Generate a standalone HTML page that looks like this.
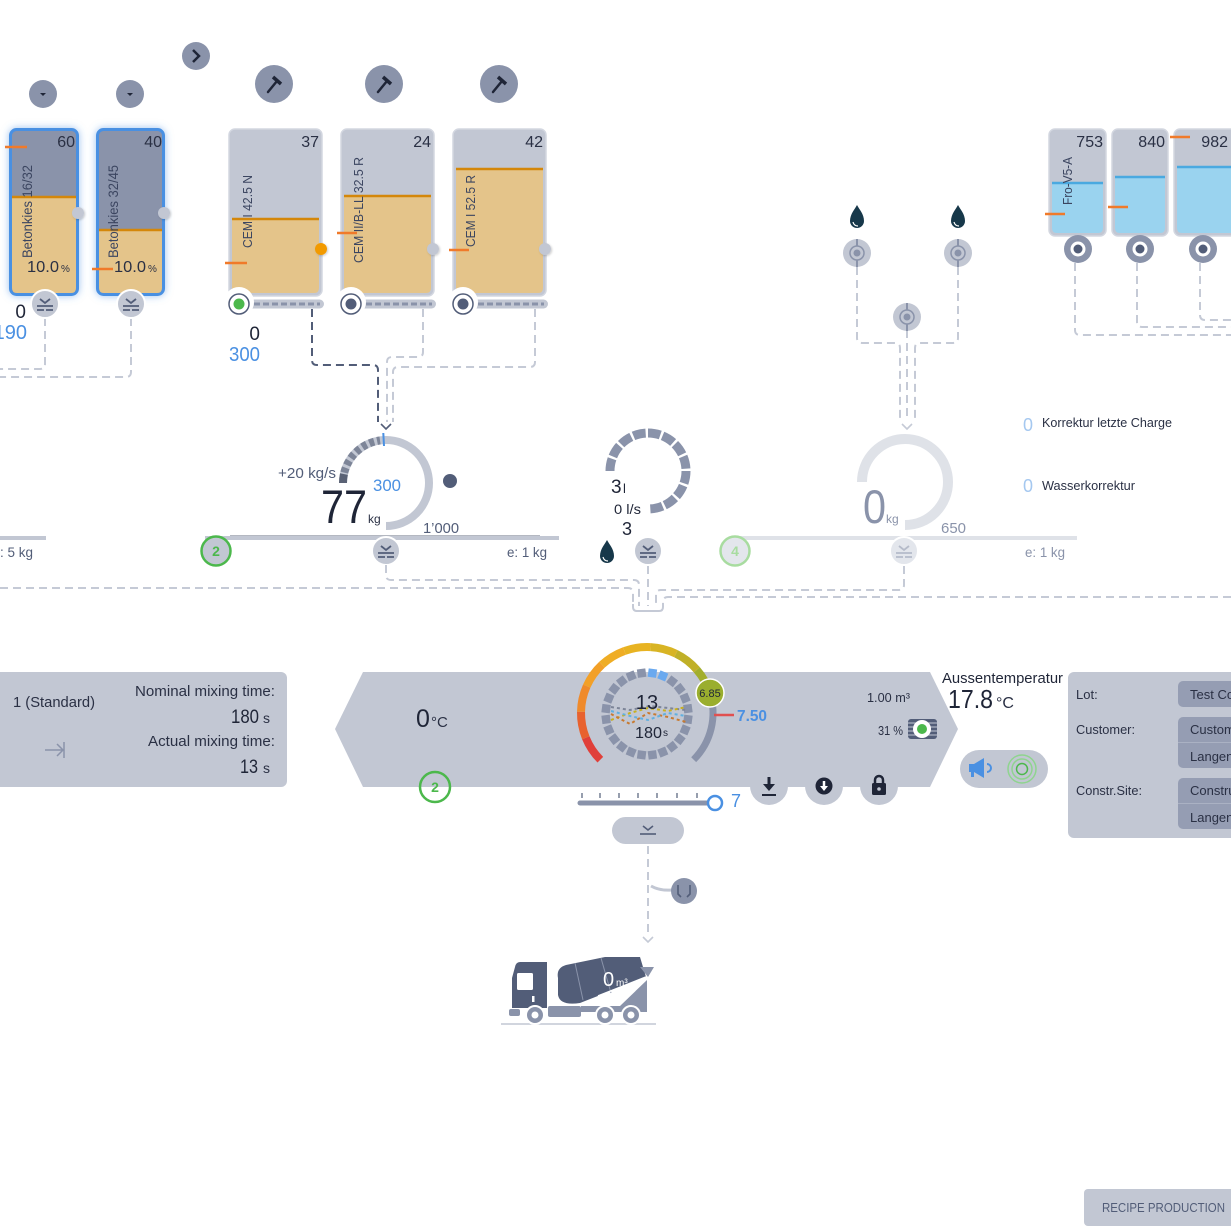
<!DOCTYPE html>
<html><head><meta charset="utf-8">
<style>
html,body{margin:0;padding:0;background:#fff;width:1231px;height:1231px;overflow:hidden}
svg{display:block}
text{font-family:"Liberation Sans",sans-serif}
.dl{fill:none;stroke:#c5cad6;stroke-width:2;stroke-dasharray:8 5}
.dd{fill:none;stroke:#525d78;stroke-width:2;stroke-dasharray:8 5}
.or{stroke:#f07a2a;stroke-width:2.5}
</style></head><body>
<svg width="1231" height="1231" viewBox="0 0 1231 1231" xmlns="http://www.w3.org/2000/svg" fill="#2a3044">
<defs>
<filter id="glow" x="-40%" y="-20%" width="180%" height="140%">
 <feGaussianBlur in="SourceAlpha" stdDeviation="4" result="b"/>
 <feFlood flood-color="#4a90e2" flood-opacity="0.55"/>
 <feComposite in2="b" operator="in"/>
 <feMerge><feMergeNode/><feMergeNode in="SourceGraphic"/></feMerge>
</filter>
<filter id="sh" x="-50%" y="-50%" width="200%" height="200%">
 <feDropShadow dx="1" dy="1" stdDeviation="1" flood-color="#000" flood-opacity="0.2"/>
</filter>
</defs>

<!-- ========== TOP BUTTONS ========== -->
<circle cx="196" cy="56" r="14" fill="#8a93aa"/>
<path d="M193,50 L199,56 L193,62" fill="none" stroke="#1f2537" stroke-width="2.5"/>
<circle cx="43" cy="94" r="14" fill="#8a93aa"/>
<path d="M40,93 L46,93 L43,96 Z" fill="#1f2537"/>
<circle cx="130" cy="94" r="14" fill="#8a93aa"/>
<path d="M127,93 L133,93 L130,96 Z" fill="#1f2537"/>

<g transform="translate(274,84)"><circle r="19" fill="#8a93aa"/><line x1="-6" y1="8" x2="3" y2="-3" stroke="#1f2537" stroke-width="2.5" stroke-linecap="round"/><line x1="-1" y1="-7" x2="7" y2="0" stroke="#1f2537" stroke-width="3.5"/></g>
<g transform="translate(384,84)"><circle r="19" fill="#8a93aa"/><line x1="-6" y1="8" x2="3" y2="-3" stroke="#1f2537" stroke-width="2.5" stroke-linecap="round"/><line x1="-1" y1="-7" x2="7" y2="0" stroke="#1f2537" stroke-width="3.5"/></g>
<g transform="translate(499,84)"><circle r="19" fill="#8a93aa"/><line x1="-6" y1="8" x2="3" y2="-3" stroke="#1f2537" stroke-width="2.5" stroke-linecap="round"/><line x1="-1" y1="-7" x2="7" y2="0" stroke="#1f2537" stroke-width="3.5"/></g>

<!-- ========== AGGREGATE BINS ========== -->
<path class="dl" d="M45,318 V364 Q45,369 40,369 H0"/>
<path class="dl" d="M131,318 V372 Q131,377 126,377 H0"/>

<g filter="url(#glow)">
<rect x="10.5" y="129.5" width="67" height="165" rx="6" fill="#8a93aa" stroke="#4a90e2" stroke-width="3"/>
<rect x="97.5" y="129.5" width="66" height="165" rx="6" fill="#8a93aa" stroke="#4a90e2" stroke-width="3"/>
</g>
<path d="M12,196 H76 V288 Q76,293 71,293 H17 Q12,293 12,288 Z" fill="#e4c48a"/>
<line x1="12" y1="197" x2="76" y2="197" stroke="#d4870a" stroke-width="2.5"/>
<path d="M99,229 H162 V288 Q162,293 157,293 H104 Q99,293 99,288 Z" fill="#e4c48a"/>
<line x1="99" y1="230" x2="162" y2="230" stroke="#d4870a" stroke-width="2.5"/>
<text x="75" y="147" font-size="16" text-anchor="end">60</text>
<text x="162" y="147" font-size="16" text-anchor="end">40</text>
<text transform="translate(32,258) rotate(-90)" font-size="14" textLength="93" lengthAdjust="spacingAndGlyphs" fill="#3b4560">Betonkies 16/32</text>
<text transform="translate(118,258) rotate(-90)" font-size="14" textLength="93" lengthAdjust="spacingAndGlyphs" fill="#3b4560">Betonkies 32/45</text>
<text x="27" y="272" font-size="16" textLength="32" lengthAdjust="spacingAndGlyphs">10.0</text><text x="61" y="272" font-size="10">%</text>
<text x="114" y="272" font-size="16" textLength="32" lengthAdjust="spacingAndGlyphs">10.0</text><text x="148" y="272" font-size="10">%</text>
<line class="or" x1="5" y1="147" x2="27" y2="147"/>
<line class="or" x1="92" y1="269" x2="113" y2="269"/>
<circle cx="78" cy="213" r="6" fill="#c2c7d3" filter="url(#sh)"/>
<circle cx="164" cy="213" r="6" fill="#c2c7d3" filter="url(#sh)"/>

<g transform="translate(45,304)"><circle r="14" fill="#c2c7d3" stroke="#fff" stroke-width="2"/><path d="M-5,-5 L0,-1 L5,-5" fill="none" stroke="#525d78" stroke-width="1.8"/><path d="M-8,2 H8 M-8,6 H-1 M1,6 H8" stroke="#525d78" stroke-width="1.8"/></g>
<g transform="translate(131,304)"><circle r="14" fill="#c2c7d3" stroke="#fff" stroke-width="2"/><path d="M-5,-5 L0,-1 L5,-5" fill="none" stroke="#525d78" stroke-width="1.8"/><path d="M-8,2 H8 M-8,6 H-1 M1,6 H8" stroke="#525d78" stroke-width="1.8"/></g>
<text x="26" y="318" font-size="19" text-anchor="end" fill="#1f2537">0</text>
<text x="27" y="339" font-size="20" text-anchor="end" fill="#4a90e2">190</text>

<!-- ========== CEMENT SILOS ========== -->
<path class="dd" d="M312,309 V360 Q312,365 317,365 H373 Q378,365 378,370 V422"/>
<path class="dl" d="M423,309 V352 Q423,357 418,357 H392 Q387,357 387,362 V422"/>
<path class="dl" d="M535,309 V362 Q535,367 530,367 H398 Q393,367 393,372 V422"/>
<path d="M381,424 L386,429 L391,424" fill="none" stroke="#525d78" stroke-width="1.6"/>

<!-- silo 1 -->
<rect x="229" y="129" width="93" height="167" rx="6" fill="#c2c7d3" stroke="#d3d7e0" stroke-width="1.5"/>
<path d="M232,218 H319 V288 Q319,293 314,293 H237 Q232,293 232,288 Z" fill="#e4c48a"/>
<line x1="232" y1="219" x2="319" y2="219" stroke="#d4870a" stroke-width="2.5"/>
<text x="319" y="147" font-size="16" text-anchor="end">37</text>
<text transform="translate(252,248) rotate(-90)" font-size="13" textLength="73" lengthAdjust="spacingAndGlyphs" fill="#3b4560">CEM I 42.5 N</text>
<line class="or" x1="225" y1="263" x2="247" y2="263"/>
<circle cx="321" cy="249" r="6" fill="#f29a00" filter="url(#sh)"/>
<!-- silo 2 -->
<rect x="341" y="129" width="93" height="167" rx="6" fill="#c2c7d3" stroke="#d3d7e0" stroke-width="1.5"/>
<path d="M344,195 H431 V288 Q431,293 426,293 H349 Q344,293 344,288 Z" fill="#e4c48a"/>
<line x1="344" y1="196" x2="431" y2="196" stroke="#d4870a" stroke-width="2.5"/>
<text x="431" y="147" font-size="16" text-anchor="end">24</text>
<text transform="translate(363,263) rotate(-90)" font-size="13" textLength="106" lengthAdjust="spacingAndGlyphs" fill="#3b4560">CEM II/B-LL 32.5 R</text>
<line class="or" x1="337" y1="233" x2="357" y2="233"/>
<circle cx="433" cy="249" r="6" fill="#c2c7d3" filter="url(#sh)"/>
<!-- silo 3 -->
<rect x="453" y="129" width="93" height="167" rx="6" fill="#c2c7d3" stroke="#d3d7e0" stroke-width="1.5"/>
<path d="M456,168 H543 V288 Q543,293 538,293 H461 Q456,293 456,288 Z" fill="#e4c48a"/>
<line x1="456" y1="169" x2="543" y2="169" stroke="#d4870a" stroke-width="2.5"/>
<text x="543" y="147" font-size="16" text-anchor="end">42</text>
<text transform="translate(475,247) rotate(-90)" font-size="13" textLength="72" lengthAdjust="spacingAndGlyphs" fill="#3b4560">CEM I 52.5 R</text>
<line class="or" x1="449" y1="250" x2="469" y2="250"/>
<circle cx="545" cy="249" r="6" fill="#c2c7d3" filter="url(#sh)"/>

<!-- conveyors -->
<g>
<rect x="239" y="299.5" width="85" height="9" rx="4.5" fill="#c2c7d3"/>
<line x1="254" y1="304" x2="320" y2="304" stroke="#8a93aa" stroke-width="3" stroke-dasharray="6 3"/>
<circle cx="239" cy="302" r="15" fill="#fff"/>
<circle cx="239" cy="304" r="10" fill="#fff" stroke="#525d78" stroke-width="1.5"/>
<circle cx="239" cy="304" r="5.5" fill="#4cb84c"/>
</g>
<g>
<rect x="351" y="299.5" width="85" height="9" rx="4.5" fill="#c2c7d3"/>
<line x1="366" y1="304" x2="432" y2="304" stroke="#8a93aa" stroke-width="3" stroke-dasharray="6 3"/>
<circle cx="351" cy="302" r="15" fill="#fff"/>
<circle cx="351" cy="304" r="10" fill="#fff" stroke="#525d78" stroke-width="1.5"/>
<circle cx="351" cy="304" r="5.5" fill="#525d78"/>
</g>
<g>
<rect x="463" y="299.5" width="85" height="9" rx="4.5" fill="#c2c7d3"/>
<line x1="478" y1="304" x2="544" y2="304" stroke="#8a93aa" stroke-width="3" stroke-dasharray="6 3"/>
<circle cx="463" cy="302" r="15" fill="#fff"/>
<circle cx="463" cy="304" r="10" fill="#fff" stroke="#525d78" stroke-width="1.5"/>
<circle cx="463" cy="304" r="5.5" fill="#525d78"/>
</g>
<text x="260" y="340" font-size="19" text-anchor="end" fill="#1f2537">0</text>
<text x="229" y="361" font-size="20" textLength="31" lengthAdjust="spacingAndGlyphs" fill="#4a90e2">300</text>

<!-- ========== WATER SOURCES ========== -->
<path class="dl" d="M857,267 V338 Q857,343 862,343 H895 Q900,343 900,348 V420"/>
<path class="dl" d="M958,267 V338 Q958,343 953,343 H920 Q915,343 915,348 V420"/>
<path class="dl" d="M907,330 V420"/>
<path d="M902,424 L907,429 L912,424" fill="none" stroke="#c5cad6" stroke-width="1.6"/>

<path d="M857,205 C855,209 850,214 850,221 A7,7 0 0 0 864,221 C864,214 859,209 857,205 Z" fill="#17384a"/>
<path d="M853,222 Q854,226 858,226" fill="none" stroke="#fff" stroke-width="1.2"/>
<path d="M958,205 C956,209 951,214 951,221 A7,7 0 0 0 965,221 C965,214 960,209 958,205 Z" fill="#17384a"/>
<path d="M954,222 Q955,226 959,226" fill="none" stroke="#fff" stroke-width="1.2"/>

<g transform="translate(857,253)"><circle r="14" fill="#c2c7d3"/><line x1="0" y1="-14" x2="0" y2="14" stroke="#8a93aa" stroke-width="2"/><circle r="7" fill="#c2c7d3" stroke="#8a93aa" stroke-width="1.5"/><circle r="3.5" fill="#8a93aa"/></g>
<g transform="translate(958,253)"><circle r="14" fill="#c2c7d3"/><line x1="0" y1="-14" x2="0" y2="14" stroke="#8a93aa" stroke-width="2"/><circle r="7" fill="#c2c7d3" stroke="#8a93aa" stroke-width="1.5"/><circle r="3.5" fill="#8a93aa"/></g>
<g transform="translate(907,317)"><circle r="14" fill="#c2c7d3"/><line x1="0" y1="-14" x2="0" y2="14" stroke="#8a93aa" stroke-width="2"/><circle r="7" fill="#c2c7d3" stroke="#8a93aa" stroke-width="1.5"/><circle r="3.5" fill="#8a93aa"/></g>

<!-- ========== ADDITIVE TANKS ========== -->
<path class="dl" d="M1075,263 V330 Q1075,335 1080,335 H1231"/>
<path class="dl" d="M1137,263 V322 Q1137,327 1142,327 H1231"/>
<path class="dl" d="M1200,263 V315 Q1200,320 1205,320 H1231"/>

<rect x="1049" y="129" width="57" height="107" rx="6" fill="#c2c7d3" stroke="#d3d7e0" stroke-width="1.5"/>
<path d="M1052,182 H1103 V228 Q1103,233 1098,233 H1057 Q1052,233 1052,228 Z" fill="#9ad3ef"/>
<line x1="1052" y1="183" x2="1103" y2="183" stroke="#4aa9e0" stroke-width="2.5"/>
<rect x="1112" y="129" width="56" height="107" rx="6" fill="#c2c7d3" stroke="#d3d7e0" stroke-width="1.5"/>
<path d="M1115,176 H1165 V228 Q1165,233 1160,233 H1120 Q1115,233 1115,228 Z" fill="#9ad3ef"/>
<line x1="1115" y1="177" x2="1165" y2="177" stroke="#4aa9e0" stroke-width="2.5"/>
<rect x="1174" y="129" width="70" height="107" rx="6" fill="#c2c7d3" stroke="#d3d7e0" stroke-width="1.5"/>
<path d="M1177,166 H1241 V233 H1182 Q1177,233 1177,228 Z" fill="#9ad3ef"/>
<line x1="1177" y1="167" x2="1241" y2="167" stroke="#4aa9e0" stroke-width="2.5"/>
<text x="1103" y="147" font-size="16" text-anchor="end">753</text>
<text x="1165" y="147" font-size="16" text-anchor="end">840</text>
<text x="1228" y="147" font-size="16" text-anchor="end">982</text>
<text transform="translate(1072,205) rotate(-90)" font-size="13" textLength="48" lengthAdjust="spacingAndGlyphs" fill="#3b4560">Fro-V5-A</text>
<line class="or" x1="1045" y1="214" x2="1065" y2="214"/>
<line class="or" x1="1108" y1="207" x2="1128" y2="207"/>
<line class="or" x1="1170" y1="137" x2="1190" y2="137"/>
<g transform="translate(1078,249)"><circle r="14" fill="#8a93aa"/><circle r="7.5" fill="#fff"/><circle r="4.5" fill="#525d78"/></g>
<g transform="translate(1140,249)"><circle r="14" fill="#8a93aa"/><circle r="7.5" fill="#fff"/><circle r="4.5" fill="#525d78"/></g>
<g transform="translate(1203,249)"><circle r="14" fill="#8a93aa"/><circle r="7.5" fill="#fff"/><circle r="4.5" fill="#525d78"/></g>

<!-- corrections -->
<text x="1023" y="431" font-size="18" fill="#a5c8f0">0</text>
<text x="1042" y="427" font-size="13" textLength="130" lengthAdjust="spacingAndGlyphs">Korrektur letzte Charge</text>
<text x="1023" y="492" font-size="18" fill="#a5c8f0">0</text>
<text x="1042" y="490" font-size="13" textLength="93" lengthAdjust="spacingAndGlyphs">Wasserkorrektur</text>

<!-- ========== SCALE 1 (cement) ========== -->
<path d="M343,483 A43,43 0 1 1 386,526" fill="none" stroke="#c2c7d3" stroke-width="8"/>
<path d="M343,483 A43,43 0 0 1 343.94,474.06" fill="none" stroke="#5a6275" stroke-width="8"/>
<path d="M344.28,472.6 A43,43 0 0 1 380.02,440.42" fill="none" stroke="#7d8598" stroke-width="8" stroke-dasharray="5 3"/>
<line x1="384" y1="446" x2="383.3" y2="433" stroke="#4a90e2" stroke-width="2"/>
<text x="278" y="478" font-size="15" textLength="58" lengthAdjust="spacingAndGlyphs" fill="#525d78">+20 kg/s</text>
<text x="321" y="523" font-size="47" textLength="46" lengthAdjust="spacingAndGlyphs" fill="#1f2537">77</text>
<text x="368" y="523" font-size="12">kg</text>
<text x="373" y="491" font-size="17" textLength="28" lengthAdjust="spacingAndGlyphs" fill="#4a90e2">300</text>
<circle cx="450" cy="481" r="7" fill="#525d78"/>
<text x="423" y="533" font-size="15" textLength="36" lengthAdjust="spacingAndGlyphs" fill="#525d78">1’000</text>
<line x1="205" y1="538" x2="559" y2="538" stroke="#c2c7d3" stroke-width="4"/>
<line x1="230" y1="535.5" x2="540" y2="535.5" stroke="#6b7385" stroke-width="1" opacity="0.5"/>
<line x1="0" y1="538" x2="46" y2="538" stroke="#c2c7d3" stroke-width="4"/>
<text x="0" y="557" font-size="14" textLength="33" lengthAdjust="spacingAndGlyphs" fill="#525d78">: 5 kg</text>
<circle cx="216" cy="551" r="14.5" fill="#c2c7d3" stroke="#4cb84c" stroke-width="2.5"/>
<text x="216" y="556" font-size="14" font-weight="bold" text-anchor="middle" fill="#4cb84c">2</text>
<g transform="translate(386,551)"><circle r="14" fill="#c2c7d3" stroke="#fff" stroke-width="2"/><path d="M-5,-5 L0,-1 L5,-5" fill="none" stroke="#525d78" stroke-width="1.8"/><path d="M-8,2 H8 M-8,6 H-1 M1,6 H8" stroke="#525d78" stroke-width="1.8"/></g>
<text x="507" y="557" font-size="14" textLength="40" lengthAdjust="spacingAndGlyphs" fill="#525d78">e: 1 kg</text>

<!-- ========== WATER METER ========== -->
<path d="M610,471 A38,38 0 1 1 648,509" fill="none" stroke="#8a93aa" stroke-width="9" stroke-dasharray="12.5 2.4"/>
<text x="611" y="493" font-size="19" fill="#1f2537">3</text><text x="623" y="493" font-size="13" fill="#1f2537">l</text>
<text x="614" y="514" font-size="14" textLength="27" lengthAdjust="spacingAndGlyphs" fill="#1f2537">0 l/s</text>
<text x="622" y="535" font-size="18" fill="#1f2537">3</text>
<path d="M607,540 C605,544 600,549 600,556 A7,7 0 0 0 614,556 C614,549 609,544 607,540 Z" fill="#17384a"/>
<path d="M603,557 Q604,561 608,561" fill="none" stroke="#fff" stroke-width="1.2"/>
<g transform="translate(648,551)"><circle r="14" fill="#c2c7d3" stroke="#fff" stroke-width="2"/><path d="M-5,-5 L0,-1 L5,-5" fill="none" stroke="#525d78" stroke-width="1.8"/><path d="M-8,2 H8 M-8,6 H-1 M1,6 H8" stroke="#525d78" stroke-width="1.8"/></g>

<!-- ========== WATER SCALE ========== -->
<path d="M862,482 A43,43 0 1 1 905,525" fill="none" stroke="#dfe2e8" stroke-width="10"/>
<text x="863" y="523" font-size="47" textLength="23" lengthAdjust="spacingAndGlyphs" fill="#8a93aa">0</text>
<text x="886" y="523" font-size="12" fill="#8a93aa">kg</text>
<text x="941" y="533" font-size="15" textLength="25" lengthAdjust="spacingAndGlyphs" fill="#8a93aa">650</text>
<line x1="735" y1="538" x2="1077" y2="538" stroke="#dfe2e8" stroke-width="4"/>
<circle cx="735" cy="551" r="14.5" fill="#e3e6ec" stroke="#a8dca0" stroke-width="2.5"/>
<text x="735" y="556" font-size="14" font-weight="bold" text-anchor="middle" fill="#a8dca0">4</text>
<g transform="translate(904,551)"><circle r="14" fill="#e3e6ec" stroke="#fff" stroke-width="2"/><path d="M-5,-5 L0,-1 L5,-5" fill="none" stroke="#b5bbc9" stroke-width="1.8"/><path d="M-8,2 H8 M-8,6 H-1 M1,6 H8" stroke="#b5bbc9" stroke-width="1.8"/></g>
<text x="1025" y="557" font-size="14" textLength="40" lengthAdjust="spacingAndGlyphs" fill="#8a93aa">e: 1 kg</text>

<!-- ========== MERGING CONNECTORS ========== -->
<path class="dl" d="M386,565 V575 Q386,580 391,580 H634 Q639,580 639,585 V606"/>
<path class="dl" d="M0,588 H628 Q633,588 633,593 V606"/>
<path class="dl" d="M648,566 V606"/>
<path class="dl" d="M904,566 V585 Q904,590 899,590 H661 Q656,590 656,595 V606"/>
<path class="dl" d="M1231,597 H668 Q663,597 663,602 V606"/>
<path d="M633,604 V607 Q633,611 637,611 H659 Q663,611 663,607 V604" fill="none" stroke="#c5cad6" stroke-width="2"/>

<!-- ========== LEFT PANEL ========== -->
<rect x="-10" y="672" width="297" height="115" rx="6" fill="#c2c7d3"/>
<text x="13" y="707" font-size="15" textLength="82" lengthAdjust="spacingAndGlyphs">1 (Standard)</text>
<path d="M45,750 H63 M57,744 L63,750 L57,756 M64,742 V758" fill="none" stroke="#8a93aa" stroke-width="1.5"/>
<text x="135" y="696" font-size="15" textLength="140" lengthAdjust="spacingAndGlyphs">Nominal mixing time:</text>
<text x="231" y="723" font-size="19" textLength="28" lengthAdjust="spacingAndGlyphs" fill="#1f2537">180</text><text x="263" y="723" font-size="14">s</text>
<text x="148" y="746" font-size="15" textLength="127" lengthAdjust="spacingAndGlyphs">Actual mixing time:</text>
<text x="240" y="773" font-size="19" textLength="18" lengthAdjust="spacingAndGlyphs" fill="#1f2537">13</text><text x="263" y="773" font-size="14">s</text>

<!-- ========== MIXER PANEL ========== -->
<polygon points="335,729 363,672 930,672 958,729 930,787 363,787" fill="#c2c7d3"/>
<text x="416" y="727" font-size="25" fill="#1f2537">0</text>
<text x="431" y="727" font-size="15">°C</text>
<circle cx="435" cy="787" r="15" fill="none" stroke="#4cb84c" stroke-width="2.5"/>
<text x="435" y="792" font-size="14" font-weight="bold" text-anchor="middle" fill="#4cb84c">2</text>

<!-- gradient arc -->
<g fill="none" stroke-width="8">
<path d="M600.33,759.67 A66,66 0 0 1 585.8,737.72" stroke="#e0403a"/>
<path d="M585.8,737.72 A66,66 0 0 1 581.01,711.85" stroke="#e8622f"/>
<path d="M581.01,711.85 A66,66 0 0 1 586.71,686.16" stroke="#ef8a2b"/>
<path d="M586.71,686.16 A66,66 0 0 1 601.99,664.73" stroke="#f2a028"/>
<path d="M601.99,664.73 A66,66 0 0 1 624.43,650.98" stroke="#efad25"/>
<path d="M624.43,650.98 A66,66 0 0 1 650.45,647.09" stroke="#e8b322"/>
<path d="M650.45,647.09 A66,66 0 0 1 675.93,653.68" stroke="#d8b424"/>
<path d="M675.93,653.68 A66,66 0 0 1 696.81,669.7" stroke="#c0b028"/>
<path d="M696.81,669.7 A66,66 0 0 1 709.91,693.04" stroke="#a2ae2d"/>
</g>
<path d="M709.91,693.04 A66,66 0 0 1 693.67,759.67" fill="none" stroke="#8a93aa" stroke-width="7"/>

<!-- square ring -->
<g transform="translate(647,714)" fill="#8a93aa">
<rect x="-4.25" y="-45.5" width="8.5" height="8.5" transform="rotate(7.5)" fill="#6aa9ef"/>
<rect x="-4.25" y="-45.5" width="8.5" height="8.5" transform="rotate(22.5)" fill="#6aa9ef"/>
<rect x="-4.25" y="-45.5" width="8.5" height="8.5" transform="rotate(37.5)"/>
<rect x="-4.25" y="-45.5" width="8.5" height="8.5" transform="rotate(52.5)"/>
<rect x="-4.25" y="-45.5" width="8.5" height="8.5" transform="rotate(67.5)"/>
<rect x="-4.25" y="-45.5" width="8.5" height="8.5" transform="rotate(82.5)"/>
<rect x="-4.25" y="-45.5" width="8.5" height="8.5" transform="rotate(97.5)"/>
<rect x="-4.25" y="-45.5" width="8.5" height="8.5" transform="rotate(112.5)"/>
<rect x="-4.25" y="-45.5" width="8.5" height="8.5" transform="rotate(127.5)"/>
<rect x="-4.25" y="-45.5" width="8.5" height="8.5" transform="rotate(142.5)"/>
<rect x="-4.25" y="-45.5" width="8.5" height="8.5" transform="rotate(157.5)"/>
<rect x="-4.25" y="-45.5" width="8.5" height="8.5" transform="rotate(172.5)"/>
<rect x="-4.25" y="-45.5" width="8.5" height="8.5" transform="rotate(187.5)"/>
<rect x="-4.25" y="-45.5" width="8.5" height="8.5" transform="rotate(202.5)"/>
<rect x="-4.25" y="-45.5" width="8.5" height="8.5" transform="rotate(217.5)"/>
<rect x="-4.25" y="-45.5" width="8.5" height="8.5" transform="rotate(232.5)"/>
<rect x="-4.25" y="-45.5" width="8.5" height="8.5" transform="rotate(247.5)"/>
<rect x="-4.25" y="-45.5" width="8.5" height="8.5" transform="rotate(262.5)"/>
<rect x="-4.25" y="-45.5" width="8.5" height="8.5" transform="rotate(277.5)"/>
<rect x="-4.25" y="-45.5" width="8.5" height="8.5" transform="rotate(292.5)"/>
<rect x="-4.25" y="-45.5" width="8.5" height="8.5" transform="rotate(307.5)"/>
<rect x="-4.25" y="-45.5" width="8.5" height="8.5" transform="rotate(322.5)"/>
<rect x="-4.25" y="-45.5" width="8.5" height="8.5" transform="rotate(337.5)"/>
<rect x="-4.25" y="-45.5" width="8.5" height="8.5" transform="rotate(352.5)"/>
</g>
<!-- waves -->
<g fill="none" stroke-width="2" stroke-dasharray="3 3">
<path d="M611,707 L630,710 L650,706 L686,710" stroke="#7d8598"/>
<path d="M611,720 L630,713 L648,708 L668,711 L686,707" stroke="#c8b020"/>
<path d="M611,714 L630,724 L648,713 L668,717 L686,722" stroke="#c87a30"/>
<path d="M611,711 L630,716 L648,720 L668,713 L686,716" stroke="#60b0e0"/>
</g>
<text x="647" y="709" font-size="20" text-anchor="middle" fill="#1f2537">13</text>
<text x="635" y="738" font-size="16" textLength="27" lengthAdjust="spacingAndGlyphs" fill="#1f2537">180</text>
<text x="663" y="736" font-size="10" fill="#1f2537">s</text>
<circle cx="710" cy="693" r="14" fill="#9aae2e" stroke="#fff" stroke-width="1.5"/>
<text x="710" y="697" font-size="11" text-anchor="middle" fill="#1f2537">6.85</text>
<line x1="714" y1="715" x2="734" y2="715" stroke="#e05050" stroke-width="2.5"/>
<text x="737" y="721" font-size="16" font-weight="bold" textLength="30" lengthAdjust="spacingAndGlyphs" fill="#4a90e2">7.50</text>

<text x="867" y="702" font-size="13" textLength="43" lengthAdjust="spacingAndGlyphs">1.00 m³</text>
<text x="878" y="735" font-size="13" textLength="25" lengthAdjust="spacingAndGlyphs">31 %</text>
<rect x="908" y="719" width="29" height="20" rx="3" fill="#525d78"/>
<path d="M908,723 H937 M908,727 H937 M908,731 H937 M908,735 H937" stroke="#c2c7d3" stroke-width="1"/>
<circle cx="922" cy="729" r="9" fill="#fff"/>
<circle cx="922" cy="729" r="5" fill="#4cb84c"/>

<!-- bottom buttons -->
<circle cx="769" cy="786" r="19" fill="#c2c7d3"/>
<circle cx="824" cy="786" r="19" fill="#c2c7d3"/>
<circle cx="879" cy="786" r="19" fill="#c2c7d3"/>
<path d="M769,777 V788" stroke="#1f2537" stroke-width="3"/>
<path d="M763,784 L775,784 L769,791 Z" fill="#1f2537"/>
<path d="M762,795 H776" stroke="#1f2537" stroke-width="2"/>
<circle cx="824" cy="786" r="8.5" fill="#1f2537"/>
<path d="M824,781 V787" stroke="#fff" stroke-width="2.5"/>
<path d="M820,786 L828,786 L824,791 Z" fill="#fff"/>
<path d="M875,784 V780 A4,4 0 0 1 883,780 V784" fill="none" stroke="#1f2537" stroke-width="2.5"/>
<rect x="872" y="783" width="14" height="12" rx="1.5" fill="#1f2537"/>
<circle cx="879" cy="789" r="1.8" fill="#c2c7d3"/>

<!-- slider -->
<path d="M582,793 V798 M600,793 V798 M619,793 V798 M638,793 V798 M657,793 V798 M677,793 V798 M697,793 V798" stroke="#525d78" stroke-width="1.2"/>
<line x1="580" y1="803" x2="713" y2="803" stroke="#8a93aa" stroke-width="5" stroke-linecap="round"/>
<circle cx="715" cy="803" r="7" fill="#fff" stroke="#4a90e2" stroke-width="2.5"/>
<text x="731" y="807" font-size="18" fill="#4a90e2">7</text>

<!-- outside temperature -->
<text x="942" y="683" font-size="15" textLength="121" lengthAdjust="spacingAndGlyphs" fill="#1f2537">Aussentemperatur</text>
<text x="948" y="708" font-size="26" textLength="45" lengthAdjust="spacingAndGlyphs" fill="#1f2537">17.8</text>
<text x="996" y="708" font-size="16">°C</text>
<rect x="960" y="750" width="88" height="38" rx="19" fill="#c2c7d3"/>
<path d="M969,764 H974 L984,758 V778 L974,772 H969 Z" fill="#4a90e2"/>
<rect x="971" y="772" width="3" height="5" fill="#4a90e2"/>
<path d="M987,764 A4,4 0 0 1 987,772" stroke="#4a90e2" stroke-width="2" fill="none"/>
<circle cx="1022" cy="769" r="14" fill="none" stroke="#8fd48f" stroke-width="1.5"/>
<circle cx="1022" cy="769" r="10" fill="none" stroke="#8fd48f" stroke-width="1.5"/>
<circle cx="1022" cy="769" r="5.5" fill="none" stroke="#4cb84c" stroke-width="1.5"/>

<!-- ========== RIGHT PANEL ========== -->
<rect x="1068" y="672" width="180" height="166" rx="6" fill="#c2c7d3"/>
<text x="1076" y="699" font-size="13">Lot:</text>
<text x="1076" y="734" font-size="13" textLength="59" lengthAdjust="spacingAndGlyphs">Customer:</text>
<text x="1076" y="795" font-size="13" textLength="66" lengthAdjust="spacingAndGlyphs">Constr.Site:</text>
<rect x="1178" y="681" width="70" height="26" rx="5" fill="#959db3"/>
<rect x="1178" y="717" width="70" height="51" rx="5" fill="#959db3"/>
<line x1="1178" y1="742.5" x2="1231" y2="742.5" stroke="#aab1c3" stroke-width="1"/>
<rect x="1178" y="778" width="70" height="51" rx="5" fill="#959db3"/>
<line x1="1178" y1="803.5" x2="1231" y2="803.5" stroke="#aab1c3" stroke-width="1"/>
<text x="1190" y="699" font-size="13">Test Concrete</text>
<text x="1190" y="734" font-size="13">Customer</text>
<text x="1190" y="761" font-size="13">Langenthal</text>
<text x="1190" y="795" font-size="13">Construction</text>
<text x="1190" y="822" font-size="13">Langenthal</text>

<!-- ========== BELOW MIXER ========== -->
<rect x="612" y="817" width="72" height="27" rx="13.5" fill="#c2c7d3"/>
<path d="M643,826 L648,830 L653,826" fill="none" stroke="#525d78" stroke-width="1.6"/>
<path d="M640,834 H656" stroke="#525d78" stroke-width="1.6"/>
<path class="dl" d="M648,846 V936"/>
<path d="M643,937 L648,942 L653,937" fill="none" stroke="#c5cad6" stroke-width="1.6"/>
<path d="M651,886 Q660,891 672,890" fill="none" stroke="#c2c7d3" stroke-width="3"/>
<circle cx="684" cy="891" r="13" fill="#8a93aa"/>
<path d="M678,885 V894 L681,897 M690,885 V894 L687,897" fill="none" stroke="#525d78" stroke-width="1.6"/>

<!-- truck -->
<line x1="501" y1="1024" x2="656" y2="1024" stroke="#c2c7d3" stroke-width="1.5"/>
<path d="M520,962 H547 V1008 H512 V978 L515,967 Q516,962 520,962 Z" fill="#525d78"/>
<rect x="517" y="973" width="16" height="17" rx="1.5" fill="#fff"/>
<rect x="532" y="996" width="2.5" height="6" fill="#fff"/>
<rect x="509" y="1009" width="11" height="7" rx="2" fill="#8a93aa"/>
<rect x="548" y="1006" width="33" height="11" rx="2" fill="#8a93aa"/>
<rect x="581" y="1006" width="66" height="6" fill="#8a93aa"/>
<polygon points="620,1006 647,980 647,1006" fill="#8a93aa"/>
<path d="M558,978 Q556,968 566,965 L605,957 L640,957 L646,977 L580,1003 Q560,1006 558,995 Z" fill="#525d78"/>
<path d="M575,963 L583,1000 M601,958 L611,993" stroke="#8a93aa" stroke-width="1"/>
<path d="M598,996 L646,977" stroke="#fff" stroke-width="1.5"/>
<polygon points="640,967 654,967 648,977" fill="#8a93aa"/>
<g fill="#8a93aa" stroke="#fff" stroke-width="2">
<circle cx="535" cy="1015" r="9"/><circle cx="605" cy="1015" r="9"/><circle cx="631" cy="1015" r="9"/>
</g>
<g fill="#fff"><circle cx="535" cy="1015" r="3.5"/><circle cx="605" cy="1015" r="3.5"/><circle cx="631" cy="1015" r="3.5"/></g>
<text x="603" y="986" font-size="20" fill="#fff">0</text>
<text x="616" y="986" font-size="10" fill="#fff">m³</text>

<!-- bottom right button -->
<rect x="1084" y="1189" width="160" height="37" rx="4" fill="#c2c7d3"/>
<text x="1102" y="1212" font-size="13" textLength="123" lengthAdjust="spacingAndGlyphs" fill="#525d78">RECIPE PRODUCTION</text>
</svg>
</body></html>
